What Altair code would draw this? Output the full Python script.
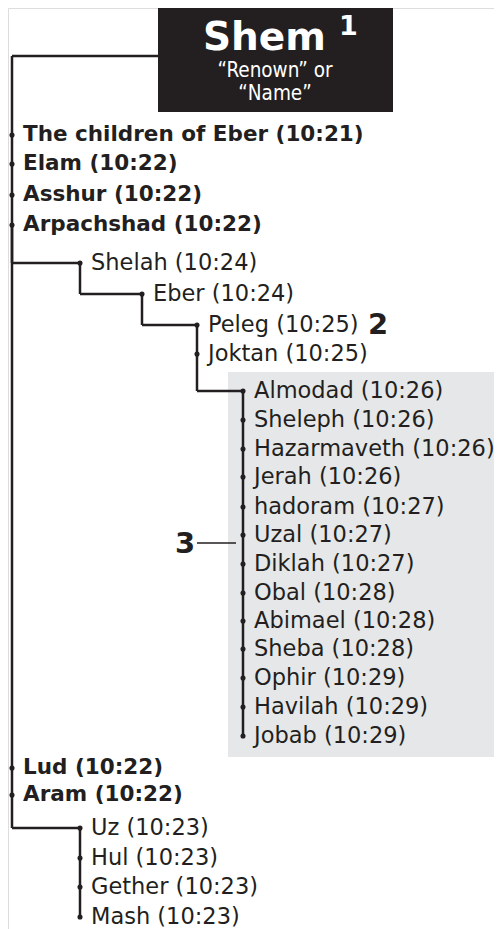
import altair as alt
import pandas as pd

# ---- data ----
root_name = "Shem"
root_note = "1"
root_meaning = ["\u201cRenown\u201d or", "\u201cName\u201d"]

names = ["The children of Eber", "Elam", "Asshur", "Arpachshad",
         "Shelah", "Eber", "Peleg", "Joktan",
         "Almodad", "Sheleph", "Hazarmaveth", "Jerah", "hadoram", "Uzal", "Diklah",
         "Obal", "Abimael", "Sheba", "Ophir", "Havilah", "Jobab",
         "Lud", "Aram", "Uz", "Hul", "Gether", "Mash"]
verses = ["10:21", "10:22", "10:22", "10:22",
          "10:24", "10:24", "10:25", "10:25",
          "10:26", "10:26", "10:26", "10:26", "10:27", "10:27", "10:27",
          "10:28", "10:28", "10:28", "10:29", "10:29", "10:29",
          "10:22", "10:22", "10:23", "10:23", "10:23", "10:23"]
parents = ["Shem"] * 4 + ["Arpachshad", "Shelah", "Eber", "Eber"] + ["Joktan"] * 13 \
    + ["Shem", "Shem"] + ["Aram"] * 4
generation = [0] * 4 + [1, 2, 3, 3] + [4] * 13 + [0, 0] + [1] * 4
# vertical row position of every name
row_y = [135, 164, 195, 225, 263, 294, 325, 354,
         391, 420, 449, 477, 507, 535, 564, 593, 621, 649, 678, 707, 736,
         768, 795, 828, 858, 887, 917]
# horizontal indent of each generation column
gen_x = [12, 80, 142, 197, 243]

# numbered notes
note_labels = ["2", "3"]
note_x = [368, 175]
note_y = [334, 553]

INK = "#231f20"
FONT = "DejaVu Sans"
COND = "DejaVu Sans Condensed, Liberation Sans Narrow, sans-serif"

# ---- build tables ----
nodes = pd.DataFrame(dict(name=names, verse=verses, parent=parents, gen=generation, y=row_y))
nodes["x"] = [gen_x[g] for g in generation]
nodes["label"] = nodes["name"] + " (" + nodes["verse"] + ")"
nodes["bold"] = (nodes["parent"] == root_name)

box = pd.DataFrame(dict(x=[158], x2=[393], y=[5], y2=[112]))
root_pos = (158, 56)
pos = {root_name: root_pos}
pos.update({n: (x, y) for n, x, y in zip(nodes["name"], nodes["x"], nodes["y"])})

segs = []
for p, grp in nodes.groupby("parent", sort=False):
    px, py = pos[p]
    cx = grp["x"].iloc[0]
    top = py if p == root_name else grp["y"].min()
    if p != root_name:
        segs.append(dict(x=px, y=py, x2=px, y2=top))
    segs.append(dict(x=px, y=top, x2=cx, y2=top))
    segs.append(dict(x=cx, y=top, x2=cx, y2=grp["y"].max()))
segs = pd.DataFrame(segs)

grp3 = nodes[nodes["parent"] == "Joktan"]
shade = pd.DataFrame(dict(x=[grp3["x"].min() - 15], x2=[494],
                          y=[grp3["y"].min() - 19], y2=[grp3["y"].max() + 21]))
leader = pd.DataFrame(dict(x=[gen_x[3]], x2=[gen_x[4] - 7], y=[543], y2=[543]))
notes = pd.DataFrame(dict(label=note_labels, x=note_x, y=note_y))

title_df = pd.DataFrame(dict(t=[root_name], n=[root_note], x=[203], nx=[339], y=[50], ny=[35]))
meaning_df = pd.DataFrame(dict(t=root_meaning, x=[275, 275], y=[77, 100]))

W, H = 486, 921
X = alt.Scale(domain=[8, 8 + W], nice=False, zero=False)
Y = alt.Scale(domain=[8, 8 + H], nice=False, zero=False, reverse=True)


def xy(xf="x", yf="y"):
    return dict(x=alt.X(f"{xf}:Q", scale=X, axis=None), y=alt.Y(f"{yf}:Q", scale=Y, axis=None))


shade_l = alt.Chart(shade).mark_rect(color="#e6e7e8").encode(
    **xy(), x2="x2:Q", y2="y2:Q")
box_l = alt.Chart(box).mark_rect(color=INK).encode(**xy(), x2="x2:Q", y2="y2:Q")
lines_l = alt.Chart(segs).mark_rule(color=INK, strokeWidth=2.5).encode(
    **xy(), x2="x2:Q", y2="y2:Q")
leader_l = alt.Chart(leader).mark_rule(color=INK, strokeWidth=1.5).encode(
    **xy(), x2="x2:Q", y2="y2:Q")
dots_l = alt.Chart(nodes).mark_circle(color=INK, opacity=1, size=26).encode(**xy())
bold_l = alt.Chart(nodes[nodes["bold"]]).mark_text(
    align="left", baseline="middle", dx=11, font=FONT, fontSize=21.5, fontWeight="bold", color=INK
).encode(**xy(), text="label:N")
reg_l = alt.Chart(nodes[~nodes["bold"]]).mark_text(
    align="left", baseline="middle", dx=11, font=FONT, fontSize=22.5, color=INK
).encode(**xy(), text="label:N")
notes_l = alt.Chart(notes).mark_text(
    align="left", baseline="alphabetic", font=FONT, fontSize=29, fontWeight="bold", color=INK
).encode(**xy(), text="label:N")
title_l = alt.Chart(title_df).mark_text(
    align="left", baseline="alphabetic", font=FONT, fontSize=39, fontWeight="bold", color="white"
).encode(**xy(), text="t:N")
sup_l = alt.Chart(title_df).mark_text(
    align="left", baseline="alphabetic", font=FONT, fontSize=27, fontWeight="bold", color="white"
).encode(**xy("nx", "ny"), text="n:N")
meaning_l = alt.Chart(meaning_df).mark_text(
    align="center", baseline="alphabetic", font=COND, fontSize=20.5, color="white"
).encode(**xy(), text="t:N")

chart = alt.layer(
    shade_l, box_l, lines_l, leader_l, dots_l, bold_l, reg_l, notes_l, title_l, sup_l, meaning_l
).properties(
    width=W, height=H, padding=0, autosize=alt.AutoSizeParams(type="none")
).configure_view(stroke=None).configure(background="white")

chart.save("out.html", embed_options={"renderer": "svg", "actions": False})
